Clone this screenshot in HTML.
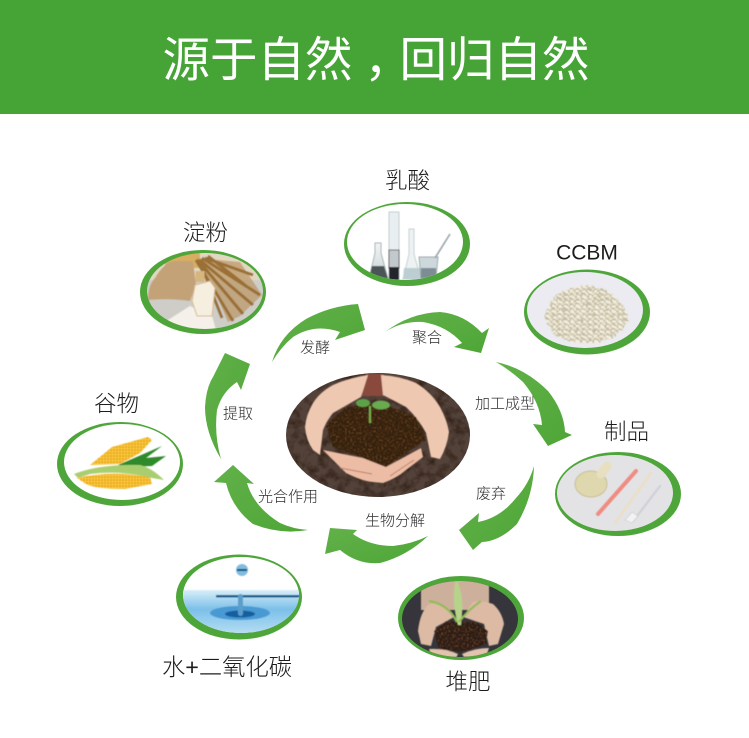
<!DOCTYPE html>
<html lang="zh"><head><meta charset="utf-8"><title>源于自然，回归自然</title>
<style>
html,body{margin:0;padding:0;background:#fff}
svg{display:block}
text{font-family:"Liberation Sans","Noto Sans CJK SC",sans-serif;text-anchor:middle;dominant-baseline:central}
.b{font-size:22.5px;fill:#1c1c1c;font-weight:300}
.s{font-size:15px;fill:#2c2c2c;font-weight:300}
.t{font-size:47.500px;fill:#fff;font-weight:400}
</style></head><body>
<svg width="749" height="738" viewBox="0 0 749 738" xmlns="http://www.w3.org/2000/svg">
<defs>
<linearGradient id="ar" x1="0" y1="0" x2="1" y2="1"><stop offset="0" stop-color="#62b14a"/><stop offset="1" stop-color="#4ea636"/></linearGradient>
<linearGradient id="wat" x1="0" y1="0" x2="0" y2="1"><stop offset="0" stop-color="#d8eef9"/><stop offset=".4" stop-color="#7cc0e8"/><stop offset="1" stop-color="#bfe3f6"/></linearGradient>
<linearGradient id="cup" x1="0" y1="0" x2="0" y2="1"><stop offset="0" stop-color="#f4f4f4"/><stop offset="1" stop-color="#c6d2d4"/></linearGradient>
<pattern id="pel" width="6" height="5" patternUnits="userSpaceOnUse"><rect width="6" height="5" fill="#c4bca3"/><ellipse cx="2" cy="1.6" rx="2.1" ry="1.5" fill="#f3eedf"/><ellipse cx="5" cy="3.8" rx="2" ry="1.4" fill="#e9e3cf"/></pattern>
<pattern id="corn" width="3" height="3" patternUnits="userSpaceOnUse"><rect width="3" height="3" fill="#e6a31c"/><circle cx="1.5" cy="1.5" r="1.3" fill="#fbcb3c"/></pattern>
<filter id="bgs" x="0" y="0" width="100%" height="100%" color-interpolation-filters="sRGB"><feTurbulence type="fractalNoise" baseFrequency=".11" numOctaves="3" seed="7"/><feColorMatrix values="0 0 0 0 .2  0 0 0 0 .13  0 0 0 0 .09  2.2 0 0 0 -.9"/><feComposite in2="SourceGraphic" operator="in" result="n"/><feMerge><feMergeNode in="SourceGraphic"/><feMergeNode in="n"/></feMerge></filter>
<filter id="mnd" x="0" y="0" width="100%" height="100%" color-interpolation-filters="sRGB"><feTurbulence type="fractalNoise" baseFrequency=".55" numOctaves="2" seed="3"/><feColorMatrix values="0 0 0 0 .5  0 0 0 0 .3  0 0 0 0 .17  3 0 0 0 -1.5"/><feComposite in2="SourceGraphic" operator="in" result="n"/><feMerge><feMergeNode in="SourceGraphic"/><feMergeNode in="n"/></feMerge></filter>
<filter id="wob" x="-5%" y="-5%" width="110%" height="110%"><feTurbulence type="fractalNoise" baseFrequency=".2" numOctaves="2" seed="5" result="t"/><feDisplacementMap in="SourceGraphic" in2="t" scale="5"/></filter>
<filter id="soft"><feGaussianBlur stdDeviation=".6"/></filter>
<clipPath id="c1"><ellipse cx="205" cy="291" rx="58" ry="38"/></clipPath>
<clipPath id="c2"><ellipse cx="405" cy="242" rx="58" ry="38"/></clipPath>
<clipPath id="c3"><ellipse cx="585" cy="310" rx="58" ry="38"/></clipPath>
<clipPath id="c4"><ellipse cx="615" cy="493" rx="58" ry="38"/></clipPath>
<clipPath id="c5"><ellipse cx="460" cy="619" rx="58" ry="38"/></clipPath>
<clipPath id="c6"><ellipse cx="241" cy="595" rx="58" ry="38"/></clipPath>
<clipPath id="c7"><ellipse cx="378" cy="435" rx="92" ry="62"/></clipPath>
</defs>

<rect width="749" height="114" fill="#46a335"/>
<text class="t" x="257.500" y="61">源于自然</text>
<text class="t" x="388" y="61">，</text>
<text class="t" x="494.500" y="61">回归自然</text>

<!-- arrows -->
<g fill="url(#ar)">
<path d="M272 362Q280 335 306 319Q330 306 358 304L365 330L335 340L340 332Q315 323 293 337Q281 347 272 362Z"/>
<path d="M385 332Q410 313 440 312Q464 314 482 333L489 328L481 353L454 347L462 343Q447 326 423 322Q402 321 385 332Z"/>
<path d="M496 362Q525 368 548 391Q564 411 565 432L572 435L548 446L533 424L542 425Q540 402 523 382Q510 370 496 362Z"/>
<path d="M534 466Q533 497 517 524Q500 541 482 542L473 550L459 530L479 513L478 522Q500 518 516 498Q529 484 534 466Z"/>
<path d="M428 536Q407 556 380 563Q358 565 340 550L325 554L330 528L357 530L353 534Q370 546 393 546Q412 544 428 536Z"/>
<path d="M308 530Q280 535 253 524Q232 508 226 483L214 482L233 465L254 484L247 483Q254 507 280 523Q293 529 308 530Z"/>
<path d="M221 459Q205 432 205 407Q206 388 213 377L225 353L250 364L241 390L237 382Q222 392 217 410Q214 435 221 459Z"/>
</g>

<!-- ring backgrounds -->
<g fill="#4ea63a">
<ellipse cx="203" cy="292" rx="63" ry="42"/>
<ellipse cx="407" cy="244" rx="63" ry="42"/>
<ellipse cx="587" cy="312" rx="63" ry="42.500"/>
<ellipse cx="618" cy="494" rx="63" ry="42"/>
<ellipse cx="461" cy="618" rx="63" ry="42"/>
<ellipse cx="239" cy="597" rx="63" ry="42.500"/>
<ellipse cx="120" cy="464" rx="63" ry="42"/>
</g>

<!-- starch -->
<g clip-path="url(#c1)"><g filter="url(#soft)">
<rect x="145" y="250" width="120" height="82" fill="#cfcdc8"/>
<rect x="145" y="250" width="120" height="30" fill="#e2d8c2"/>
<path d="M165 252H200V268H165Z" fill="#d8ae62"/>
<path d="M148 300Q148 285 155 278Q163 264 173 261L193 261L196 285L190 301Q170 298 148 300Z" fill="#c3a278"/>
<path d="M196 258L240 262L262 295L240 316L228 322L212 285Z" fill="#b8915a" opacity=".65"/>
<g stroke="#9a7034" stroke-width="3" fill="none">
<path d="M196 260L233 321M198 260L243 314M200 260L253 305M202 258L260 295M205 258L253 275M200 262L222 318M208 256L245 285"/>
</g>
<path d="M168 320L190 306L212 316L216 330H165Z" fill="#f5f1ea"/>
<path d="M200 271V282" stroke="#d6b57f" stroke-width="9"/>
<path d="M192 301L195 285L210 281L215 288L212 316L197 316Z" fill="#f6eedf" stroke="#d4b98f"/>
</g></g>

<!-- lab -->
<ellipse cx="405" cy="242" rx="58" ry="38" fill="#fff"/>
<g clip-path="url(#c2)"><g filter="url(#soft)">
<path d="M375 243h6v10l7 26h-19l6-26z" fill="url(#cup)" stroke="#a8b3b5"/>
<path d="M372 266h12l4 13h-19z" fill="#4c5559"/>
<rect x="389" y="212" width="10" height="68" fill="#e9eef0" stroke="#c3cccf"/>
<rect x="389" y="250" width="10" height="18" fill="#c2c9cc" stroke="#666"/>
<rect x="389" y="267" width="10" height="13" fill="#22282b"/>
<path d="M409 229h5v25l7 25h-18l6-25z" fill="#edf2f3" stroke="#c6d0d2"/>
<path d="M404 268h16l2 11h-19z" fill="#bcced2"/>
<path d="M419 257h19l-2 21h-15z" fill="#cdd8dc" stroke="#9daab0"/>
<path d="M421 268h15v10h-15z" fill="#7e8c93"/>
<path d="M450 234L435 258" stroke="#9aa3a6" stroke-width="1.600"/>
</g></g>

<!-- pellets -->
<ellipse cx="585" cy="310" rx="58" ry="38" fill="#ebebf1"/>
<g clip-path="url(#c3)"><g filter="url(#soft)"><g filter="url(#wob)">
<path d="M545 312Q556 288 585 285Q615 286 628 315Q630 330 600 342Q570 346 555 335Q545 325 545 312Z" fill="url(#pel)"/>
</g></g></g>

<!-- products -->
<ellipse cx="615" cy="493" rx="58" ry="38" fill="#e3e3e6"/>
<g clip-path="url(#c4)" filter="url(#soft)">
<ellipse cx="591" cy="484" rx="16" ry="13" fill="#dfd7ad" stroke="#c9bf95"/>
<path d="M601 474L607 466" stroke="#e8dfc0" stroke-width="9" stroke-linecap="round"/>
<path d="M598 514L636 471" stroke="#ee8c82" stroke-width="4" stroke-linecap="round"/>
<path d="M615 523L651 473" stroke="#e9dfca" stroke-width="3" stroke-linecap="round"/>
<path d="M634 520L660 486" stroke="#cfd0d4" stroke-width="2.200" stroke-linecap="round"/>
<path d="M632 523l-7-3 7-8 6 4z" fill="#f2f2f4" stroke="#c8c8cc" stroke-width=".6"/>
</g>

<!-- compost -->
<ellipse cx="460" cy="619" rx="58" ry="38" fill="#35353b"/>
<g clip-path="url(#c5)"><g filter="url(#soft)">
<path d="M421 578H489V610H421Z" fill="#cdb09c"/>
<path d="M418 631Q420 612 429 604Q438 602 446 607L454 617L436 627L431 646L421 644Z" fill="#dcbaa4"/>
<path d="M504 624Q502 612 493 604Q482 600 473 602L463 617L484 624L489 646L498 644Z" fill="#dcbaa4"/>
<path d="M434 631L446 621L476 622L488 631L486 644L463 652L439 649Z" fill="#2c1d18" filter="url(#mnd)"/>
<path d="M429 649Q445 648 458 654L456 658H432Z" fill="#e2c3ad"/>
<path d="M462 654Q475 648 489 648L486 657H464Z" fill="#e2c3ad"/>
<path d="M458 625Q451 600 456 579Q465 595 461 625Z" fill="#b5d489"/>
<path d="M457 622Q448 604 429 601M459 622Q468 610 481 601" stroke="#93bb56" stroke-width="2.200" fill="none"/>
</g></g>

<!-- water -->
<ellipse cx="241" cy="595" rx="58" ry="38" fill="#fff"/>
<g clip-path="url(#c6)" filter="url(#soft)">
<rect x="180" y="590" width="125" height="48" fill="url(#wat)"/>
<rect x="216" y="595" width="85" height="2.500" fill="#1d5c86"/>
<ellipse cx="240" cy="613" rx="30" ry="7" fill="#4a99d3"/>
<ellipse cx="240" cy="614" rx="15" ry="3.500" fill="#155f9f"/>
<rect x="238" y="594" width="5" height="22" rx="2.500" fill="#5b9ec9"/>
<circle cx="242" cy="570" r="6" fill="#7fbde0"/>
<rect x="237" y="569" width="10" height="2" fill="#0f4a78"/>
</g>

<!-- corn -->
<ellipse cx="122" cy="462" rx="58" ry="38" fill="#fff"/>
<g filter="url(#soft)">
<path d="M118 465L162 446L146 458L166 456L152 466L128 467Z" fill="#2f8a2c"/>
<path d="M90 465L112 447L148 437L152 440L140 453L120 464Z" fill="url(#corn)"/>
<path d="M77 478Q110 470 150 477L152 484L125 489Q95 489 86 484Z" fill="url(#corn)"/>
<path d="M74 474Q100 464 140 465Q152 468 164 480L152 478Q120 470 90 474L78 478Z" fill="#a9ce70"/>
</g>

<!-- center -->
<ellipse cx="378" cy="435" rx="92" ry="62" fill="#53423a" filter="url(#bgs)"/>
<g clip-path="url(#c7)"><g filter="url(#soft)">
<path d="M366 374H384V396H362Z" fill="#8a4a3c"/>
<path d="M323 450L346 473Q362 481 373 482L383 483Q397 478 406 470L423 457L421 448L386 467L363 458Z" fill="#ecbda4"/>
<path d="M340 468L372 474M390 476L414 460" stroke="#b97f68" stroke-width="1" fill="none"/>
<path d="M368 375Q348 378 333 385Q320 392 313 403Q306 415 305 427Q306 440 313 450L320 455L323 430Q327 420 333 413L361 397Z" fill="#eec8b0"/>
<path d="M381 375Q400 376 416 383Q431 392 440 407Q447 420 449 432Q447 447 440 459L431 457L426 433Q418 418 406 407L383 395Z" fill="#eec8b0"/>
<path d="M326 425L346 407L380 403L416 417L426 440L410 450L386 467L363 458L333 447Z" fill="#33200f" filter="url(#mnd)"/>
<path d="M370 423V406" stroke="#78ad4a" stroke-width="2"/>
<ellipse cx="363" cy="403" rx="7" ry="4" fill="#5da24a"/>
<ellipse cx="381" cy="405" rx="9" ry="4.500" fill="#69ab50"/>
</g></g>

<!-- labels -->
<text class="b" x="205.500" y="233">淀粉</text>
<text class="b" x="407.500" y="181">乳酸</text>
<text class="b" x="587" y="253" style="font-size:21px">CCBM</text>
<text class="b" x="626.500" y="432">制品</text>
<text class="b" x="468" y="682">堆肥</text>
<text class="b" x="227" y="667" style="font-size:23.300px">水+二氧化碳</text>
<text class="b" x="116.500" y="404">谷物</text>
<text class="s" x="315" y="348">发酵</text>
<text class="s" x="427" y="338">聚合</text>
<text class="s" x="505" y="404">加工成型</text>
<text class="s" x="491" y="494">废弃</text>
<text class="s" x="395" y="521">生物分解</text>
<text class="s" x="288" y="497">光合作用</text>
<text class="s" x="238" y="414">提取</text>
</svg>
</body></html>
